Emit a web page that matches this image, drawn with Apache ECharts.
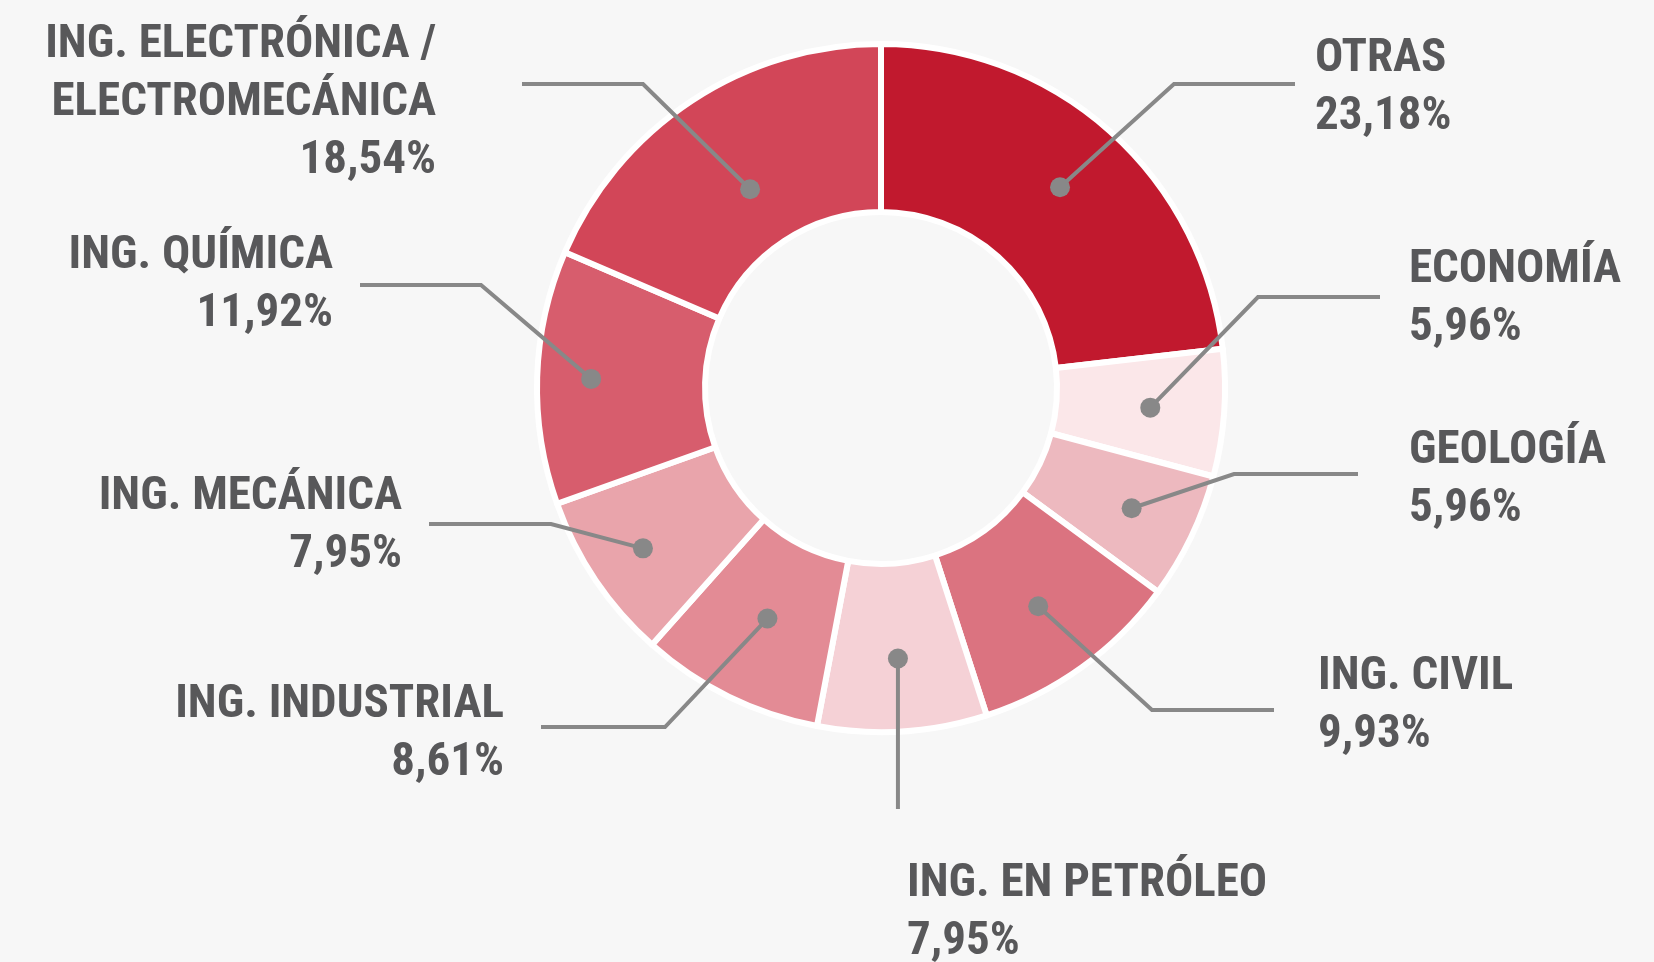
<!DOCTYPE html>
<html>
<head>
<meta charset="utf-8">
<title>Carreras</title>
<script src="https://cdn.jsdelivr.net/npm/echarts@6/dist/echarts.min.js"></script>
<style>
  html, body { margin: 0; padding: 0; background: #f7f7f7; }
  #main { width: 1654px; height: 962px; }
</style>
</head>
<body>
<div id="main"></div>
<script>
// data, clockwise from 12 o'clock
var names = ['OTRAS', 'ECONOMÍA', 'GEOLOGÍA', 'ING. CIVIL', 'ING. EN PETRÓLEO',
  'ING. INDUSTRIAL', 'ING. MECÁNICA', 'ING. QUÍMICA', 'ING. ELECTRÓNICA /\nELECTROMECÁNICA']
var values = [23.18, 5.96, 5.96, 9.93, 7.95, 8.61, 7.95, 11.92, 18.54]
var colors = ['#c1192e', '#fbe7e9', '#edb9bf', '#db7380', '#f5d1d6',
  '#e38b95', '#e9a4ab', '#d75d6d', '#d24658']

// label placement (x, top y, align, elbow, line end, dot radius)
var cx = 881, cy = 388, rIn = 176, rOut = 344
var labelPos = [
  { x: 1315, y: 30, align: 'left', elbow: [1174, 84], end: [1295, 84], dot: 269 },
  { x: 1409, y: 241, align: 'left', elbow: [1258, 297], end: [1380, 297], dot: 270 },
  { x: 1409, y: 422, align: 'left', elbow: [1234, 474], end: [1358, 474], dot: 278 },
  { x: 1318, y: 648, align: 'left', elbow: [1152, 710], end: [1274, 710], dot: 269 },
  { x: 907, y: 855, align: 'left', elbow: null, end: null, dot: 271 },
  { x: 504, y: 676, align: 'right', elbow: [665, 727], end: [541, 727], dot: 257 },
  { x: 402, y: 468, align: 'right', elbow: [551, 524], end: [429, 524], dot: 287 },
  { x: 333, y: 227, align: 'right', elbow: [481, 285], end: [360, 285], dot: 290 },
  { x: 436, y: 16, align: 'right', elbow: [643, 84], end: [522, 84], dot: 238 }
]

// mid angle of each slice, in percent units
var mids = []
var acc = 0
values.forEach(function (v) {
  mids.push(acc + v / 2)
  acc += v
})

function dotXY(i) {
  var a = (90 - mids[i] / 100 * 360) * Math.PI / 180
  var r = labelPos[i].dot
  return [cx + r * Math.cos(a), cy - r * Math.sin(a)]
}

var chart = echarts.init(document.getElementById('main'))

chart.setOption({
  backgroundColor: '#f7f7f7',
  animation: false,
  polar: {
    center: [cx, cy],
    radius: rOut
  },
  angleAxis: {
    type: 'value', min: 0, max: 100, startAngle: 90, clockwise: true,
    show: false
  },
  radiusAxis: {
    type: 'value', min: 0, max: rOut,
    show: false
  },
  series: [
    // the ring itself
    {
      type: 'pie',
      center: [cx, cy],
      radius: [rIn, rOut],
      startAngle: 90,
      clockwise: true,
      silent: true,
      itemStyle: {
        borderColor: '#ffffff',
        borderWidth: 6
      },
      label: { show: false },
      labelLine: { show: false },
      data: names.map(function (n, i) {
        return { name: n, value: values[i], itemStyle: { color: colors[i] } }
      }),
      z: 1
    },
    // same slices, transparent, only for labels and leader lines on top
    {
      type: 'pie',
      center: [cx, cy],
      radius: [rIn, rOut],
      startAngle: 90,
      clockwise: true,
      silent: true,
      itemStyle: { color: 'rgba(0,0,0,0)', borderWidth: 0 },
      data: names.map(function (n, i) {
        return { name: n, value: values[i] }
      }),
      label: {
        show: true,
        formatter: function (p) {
          return p.name + '\n' + values[p.dataIndex].toFixed(2).replace('.', ',') + '%'
        },
        fontFamily: '"Roboto Condensed", Roboto, sans-serif',
        fontWeight: 'bold',
        fontSize: 47,
        lineHeight: 58,
        color: '#58585a'
      },
      labelLine: {
        show: true,
        lineStyle: { color: '#888888', width: 4 }
      },
      labelLayout: function (params) {
        var i = params.dataIndex
        var lp = labelPos[i]
        var d = dotXY(i)
        // straight drop for the bottom label
        var elbow = lp.elbow || [d[0], 740]
        var end = lp.end || [d[0], 809]
        return {
          x: lp.x,
          y: lp.y,
          align: lp.align,
          verticalAlign: 'top',
          labelLinePoints: [d, elbow, end]
        }
      },
      z: 3
    },
    {
      type: 'scatter',
      coordinateSystem: 'polar',
      silent: true,
      symbolSize: 20,
      itemStyle: { color: '#888888', opacity: 1 },
      data: mids.map(function (m, i) { return [labelPos[i].dot, m] }),
      z: 5
    }
  ]
})
</script>
</body>
</html>
